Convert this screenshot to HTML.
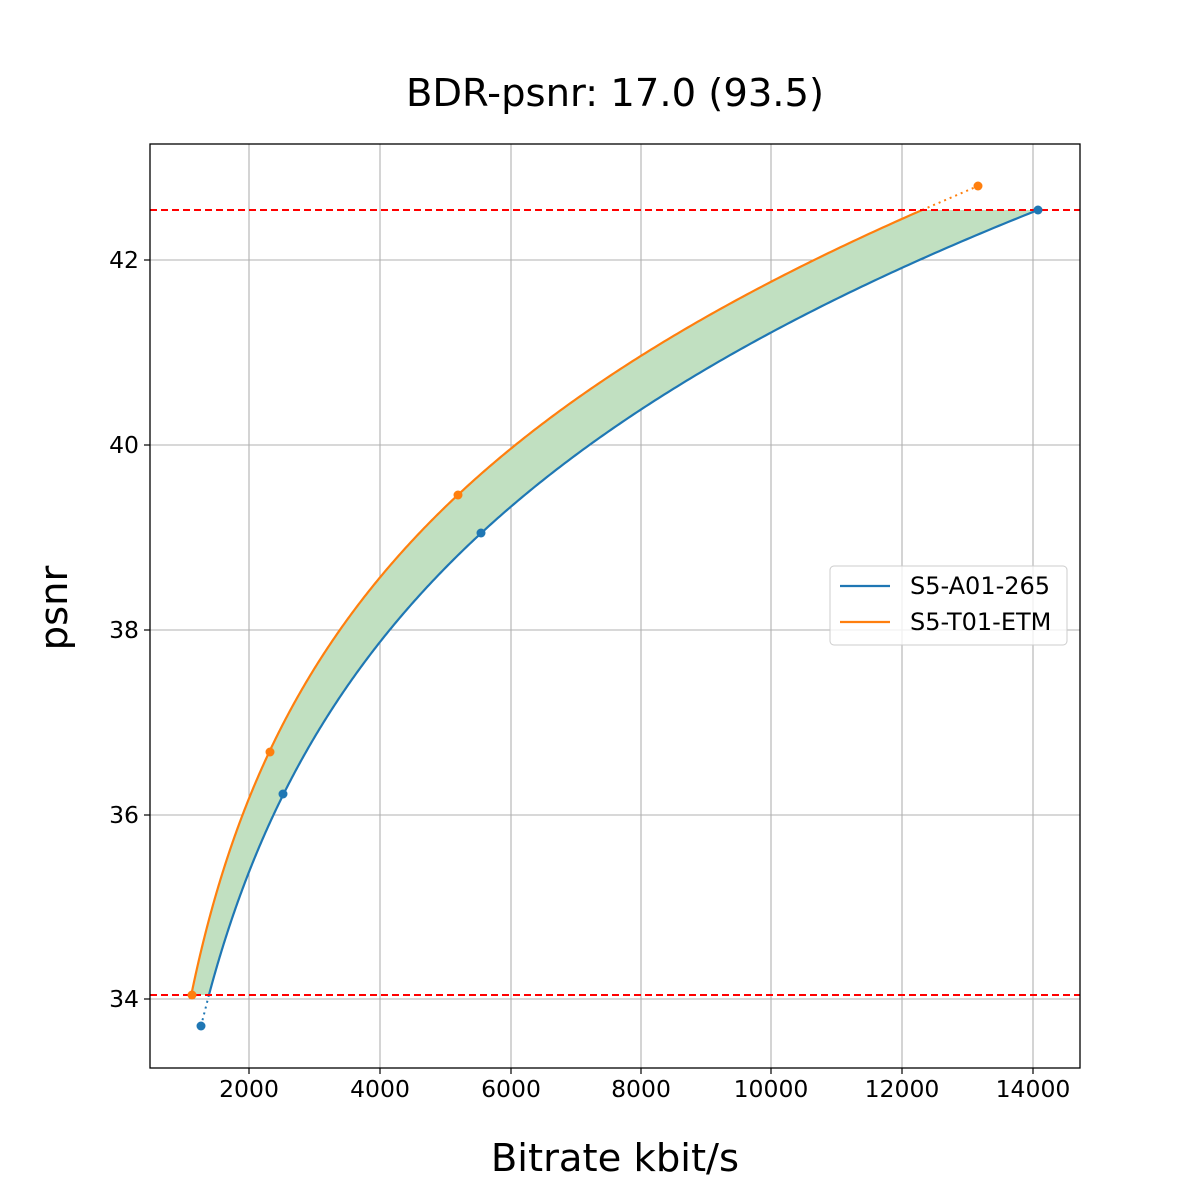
<!DOCTYPE html>
<html><head><meta charset="utf-8"><style>body{margin:0;background:#fff}svg{display:block}text{font-family:"DejaVu Sans","Liberation Sans",sans-serif}</style></head><body>
<svg width="1200" height="1200" viewBox="0 0 1200 1200">
<rect width="1200" height="1200" fill="#fff"/>
<g stroke="#b0b0b0" stroke-width="1.1">
<line x1="249" y1="144" x2="249" y2="1068"/><line x1="380" y1="144" x2="380" y2="1068"/><line x1="511" y1="144" x2="511" y2="1068"/><line x1="641" y1="144" x2="641" y2="1068"/><line x1="771" y1="144" x2="771" y2="1068"/><line x1="902" y1="144" x2="902" y2="1068"/><line x1="1033" y1="144" x2="1033" y2="1068"/>
<line x1="150" y1="260" x2="1080" y2="260"/><line x1="150" y1="445" x2="1080" y2="445"/><line x1="150" y1="630" x2="1080" y2="630"/><line x1="150" y1="815" x2="1080" y2="815"/><line x1="150" y1="999" x2="1080" y2="999"/>
</g>
<path id="fill" fill="#c1e0c1" d=""/>
<path id="blue" fill="none" stroke="#1f77b4" stroke-width="2.2" d=""/>
<path id="orange" fill="none" stroke="#ff7f0e" stroke-width="2.2" d=""/>
<line id="bd" x1="201" y1="1026" x2="206" y2="995" stroke="#1f77b4" stroke-width="2" stroke-dasharray="2,4"/>
<line id="od" x1="928" y1="210" x2="978" y2="186" stroke="#ff7f0e" stroke-width="2" stroke-dasharray="2,4"/>
<line x1="150" y1="210" x2="1080" y2="210" stroke="#f00" stroke-width="2" stroke-dasharray="7,4"/>
<line x1="150" y1="995" x2="1080" y2="995" stroke="#f00" stroke-width="2" stroke-dasharray="7,4"/>
<g fill="#1f77b4"><circle cx="201" cy="1026" r="4.5"/><circle cx="283" cy="794" r="4.5"/><circle cx="481" cy="533" r="4.5"/><circle cx="1038" cy="210" r="4.5"/></g>
<g fill="#ff7f0e"><circle cx="192" cy="995" r="4.5"/><circle cx="270" cy="752" r="4.5"/><circle cx="458" cy="495" r="4.5"/><circle cx="978" cy="186" r="4.5"/></g>
<rect x="150" y="144" width="930" height="924" fill="none" stroke="#000" stroke-width="1.3"/>
<g stroke="#000" stroke-width="1.2">
<line x1="249" y1="1068" x2="249" y2="1074"/><line x1="380" y1="1068" x2="380" y2="1074"/><line x1="511" y1="1068" x2="511" y2="1074"/><line x1="641" y1="1068" x2="641" y2="1074"/><line x1="771" y1="1068" x2="771" y2="1074"/><line x1="902" y1="1068" x2="902" y2="1074"/><line x1="1033" y1="1068" x2="1033" y2="1074"/>
<line x1="144" y1="260" x2="150" y2="260"/><line x1="144" y1="445" x2="150" y2="445"/><line x1="144" y1="630" x2="150" y2="630"/><line x1="144" y1="815" x2="150" y2="815"/><line x1="144" y1="999" x2="150" y2="999"/>
</g>
<g font-size="23.5" text-anchor="middle" fill="#000">
<text x="249" y="1097">2000</text><text x="380" y="1097">4000</text><text x="511" y="1097">6000</text><text x="641" y="1097">8000</text><text x="771" y="1097">10000</text><text x="902" y="1097">12000</text><text x="1033" y="1097">14000</text>
</g>
<g font-size="23.5" text-anchor="end" fill="#000">
<text x="139" y="268">42</text><text x="139" y="453">40</text><text x="139" y="638">38</text><text x="139" y="823">36</text><text x="139" y="1007">34</text>
</g>
<text x="615" y="106" font-size="38.5" text-anchor="middle">BDR-psnr: 17.0 (93.5)</text>
<text x="615" y="1171" font-size="38.5" text-anchor="middle">Bitrate kbit/s</text>
<text transform="translate(67,608) rotate(-90)" font-size="38.5" text-anchor="middle">psnr</text>
<rect x="830" y="566" width="237" height="79" rx="4" fill="#fff" fill-opacity="0.8" stroke="#ccc"/>
<line x1="840" y1="586" x2="890" y2="586" stroke="#1f77b4" stroke-width="2.2"/>
<line x1="840" y1="622" x2="890" y2="622" stroke="#ff7f0e" stroke-width="2.2"/>
<text x="910" y="594" font-size="24">S5-A01-265</text>
<text x="910" y="630" font-size="24">S5-T01-ETM</text>
</svg>
<script>
function X(v){return 249+(v-2000)*0.06525;}
function lag(P,t){var s=0;for(var i=0;i<P.length;i++){var l=P[i][1];for(var j=0;j<P.length;j++)if(j!=i)l*=(t-P[j][0])/(P[i][0]-P[j][0]);s+=l;}return s;}
var OP=[[995,Math.log(1115)],[752,Math.log(2310)],[495,Math.log(5200)],[186,Math.log(13180)]];
var BP=[[1026,Math.log(1265)],[794,Math.log(2530)],[533,Math.log(5560)],[210,Math.log(14090)]];
function curve(P){var pts=[];var N=400;for(var k=0;k<=N;k++){var y=995-(995-210)*k/N;pts.push([X(Math.exp(lag(P,y))),y]);}return pts;}
var o=curve(OP),b=curve(BP);
function d(p){return p.map(function(q,i){return (i?"L":"M")+q[0].toFixed(2)+","+q[1].toFixed(2);}).join(" ");}
document.getElementById("orange").setAttribute("d",d(o));
document.getElementById("blue").setAttribute("d",d(b));
document.getElementById("bd").setAttribute("x2",b[0][0]);
document.getElementById("od").setAttribute("x1",o[o.length-1][0]);
var br=b.slice().reverse();
document.getElementById("fill").setAttribute("d",d(o)+" "+br.map(function(q){return "L"+q[0].toFixed(2)+","+q[1].toFixed(2);}).join(" ")+" Z");
</script>
</body></html>
